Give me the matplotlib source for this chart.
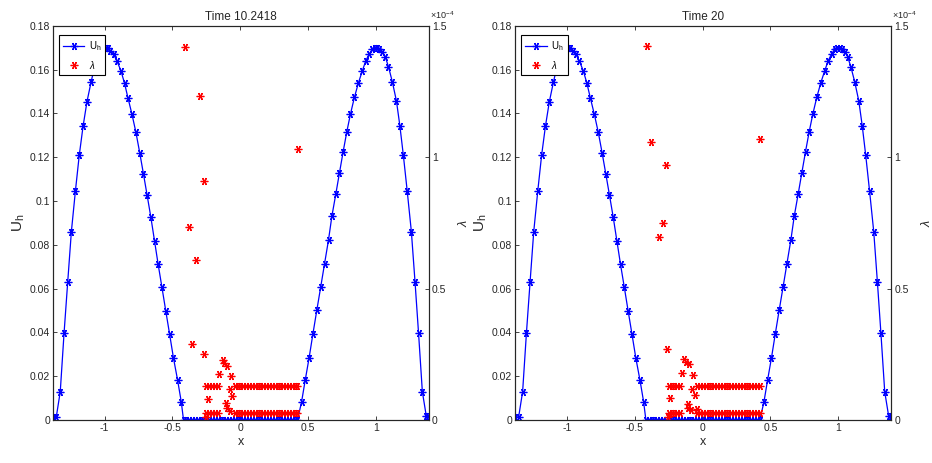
import numpy as np
import matplotlib.pyplot as plt

plt.rcParams['font.family'] = ['Liberation Sans', 'DejaVu Sans']
plt.rcParams['mathtext.fontset'] = 'custom'
plt.rcParams['mathtext.rm'] = 'Liberation Sans'
plt.rcParams['mathtext.it'] = 'Liberation Sans:italic'

# ---- discrete solution U_h (same in both panels) ----
x_h = [-1.380, -1.356, -1.327, -1.299, -1.272, -1.245, -1.215, -1.187, -1.159, -1.130,
       -1.100, -1.075, -1.050, -1.028, -1.010, -0.992, -0.975, -0.958, -0.934, -0.909,
       -0.879, -0.853, -0.828, -0.798, -0.769, -0.741, -0.714, -0.687, -0.659, -0.632,
       -0.605, -0.577, -0.549, -0.521, -0.492, -0.462, -0.435,
       -0.418, -0.397, -0.376, -0.355, -0.334, -0.313, -0.292, -0.271, -0.250, -0.229,
       -0.208, -0.187, -0.166, -0.145, -0.124, -0.103, -0.082, -0.061, -0.040, -0.019,
       0.002, 0.023, 0.044, 0.065, 0.086, 0.107, 0.128, 0.149, 0.170, 0.191,
       0.212, 0.233, 0.254, 0.275, 0.296, 0.317, 0.338, 0.359, 0.380, 0.401, 0.422,
       0.452, 0.479, 0.508, 0.536, 0.565, 0.594, 0.622, 0.651, 0.676, 0.705,
       0.732, 0.759, 0.786, 0.813, 0.842, 0.872, 0.901, 0.926, 0.951, 0.975,
       0.993, 1.010, 1.027, 1.049, 1.069, 1.093, 1.122, 1.152, 1.177, 1.203,
       1.231, 1.262, 1.289, 1.315, 1.343, 1.372, 1.388]
u_h = [0.0012, 0.0015, 0.0129, 0.0396, 0.0630, 0.0860, 0.1047, 0.1208, 0.1340, 0.1453,
       0.1542, 0.1610, 0.1655, 0.1680, 0.1692, 0.1698, 0.1696, 0.1686, 0.1669, 0.1639,
       0.1593, 0.1537, 0.1471, 0.1395, 0.1313, 0.1220, 0.1125, 0.1028, 0.0926, 0.0818,
       0.0710, 0.0605, 0.0498, 0.0393, 0.0282, 0.0183, 0.0084,
       0, 0, 0, 0, 0, 0, 0, 0, 0, 0,
       0, 0, 0, 0, 0, 0, 0, 0, 0, 0,
       0, 0, 0, 0, 0, 0, 0, 0, 0, 0,
       0, 0, 0, 0, 0, 0, 0, 0, 0, 0, 0,
       0.0081, 0.0181, 0.0284, 0.0393, 0.0502, 0.0609, 0.0714, 0.0822, 0.0931, 0.1032,
       0.1129, 0.1225, 0.1316, 0.1397, 0.1473, 0.1540, 0.1595, 0.1640, 0.1671, 0.1694,
       0.1700, 0.1700, 0.1694, 0.1681, 0.1659, 0.1613, 0.1543, 0.1456, 0.1344, 0.1208,
       0.1047, 0.0860, 0.0630, 0.0396, 0.0129, 0.0018, 0.0018]

# ---- multiplier lambda, bands of constant values ----
band_left_x = [-0.250, -0.229, -0.208, -0.187, -0.166]
band_right_x = [-0.040, -0.019, 0.002, 0.023, 0.044, 0.065, 0.086, 0.107, 0.128, 0.149,
                0.170, 0.191, 0.212, 0.233, 0.254, 0.275, 0.296, 0.317, 0.338, 0.359,
                0.380, 0.401, 0.422]
lam_upper = 0.1305e-4
lam_lower = 0.0255e-4

# isolated lambda values, t = 10.2418
lam1_x = [-0.410, -0.300, 0.425, -0.270, -0.381, -0.326, -0.356, -0.265, -0.127, -0.118,
          -0.094, -0.155, -0.066, -0.079, -0.057, -0.241, -0.103, -0.094, -0.074, -0.253]
lam1_v = [1.420, 1.232, 1.032, 0.909, 0.733, 0.609, 0.289, 0.251, 0.228, 0.216,
          0.207, 0.175, 0.169, 0.117, 0.092, 0.079, 0.064, 0.045, 0.034, 0.010]
# isolated lambda values, t = 20
lam2_x = [-0.412, -0.381, -0.270, 0.424, -0.290, -0.324, -0.261, -0.135, -0.125, -0.101,
          -0.150, -0.069, -0.078, -0.054, -0.241, -0.106, -0.106, -0.086, -0.044, -0.253]
lam2_v = [1.423, 1.056, 0.970, 1.068, 0.748, 0.697, 0.269, 0.231, 0.219, 0.212,
          0.178, 0.171, 0.117, 0.095, 0.083, 0.061, 0.044, 0.038, 0.041, 0.010]

titles = ['Time 10.2418', 'Time 20']
lam_sets = [(lam1_x, lam1_v), (lam2_x, lam2_v)]

u_ticks = [0, 0.02, 0.04, 0.06, 0.08, 0.1, 0.12, 0.14, 0.16, 0.18]
u_ticklabels = ['0', '0.02', '0.04', '0.06', '0.08', '0.1', '0.12', '0.14', '0.16', '0.18']
lam_ticks = [0, 0.5e-4, 1e-4, 1.5e-4]
lam_ticklabels = ['0', '0.5', '1', '1.5']
x_ticks = [-1, -0.5, 0, 0.5, 1]
x_ticklabels = ['-1', '-0.5', '0', '0.5', '1']

axcol = '#262626'
ast = (6, 2, 90)   # asterisk marker like MATLAB '*'
fig = plt.figure(figsize=(9.32, 4.63), dpi=100)
lefts = [0.0565, 0.5526]

for i in range(2):
    ax = fig.add_axes([lefts[i], 0.0929, 0.4038, 0.8516])
    ax2 = ax.twinx()

    line_u, = ax.plot(x_h, u_h, '-', color='blue', lw=0.9, marker=ast,
                      ms=5.5, mew=0.9)

    lx, lv = lam_sets[i]
    sc, = ax2.plot(lx, np.array(lv) * 1e-4, color='red', marker=ast, ms=5.5, mew=0.9,
                   linestyle='none')
    for bx in (band_left_x, band_right_x):
        ax2.plot(bx, [lam_upper] * len(bx), color='red', marker=ast, ms=5.5, mew=0.9,
                 linestyle='none')
        ax2.plot(bx, [lam_lower] * len(bx), color='red', marker=ast, ms=5.5, mew=0.9,
                 linestyle='none')

    ax.set_xlim(-1.383, 1.392)
    ax.set_ylim(0, 0.18)
    ax2.set_ylim(0, 1.5e-4)
    ax.set_xticks(x_ticks)
    ax.set_xticklabels(x_ticklabels)
    ax.set_yticks(u_ticks)
    ax.set_yticklabels(u_ticklabels)
    ax2.set_yticks(lam_ticks)
    ax2.set_yticklabels(lam_ticklabels)

    for a in (ax, ax2):
        for s in a.spines.values():
            s.set_color(axcol)
            s.set_linewidth(0.8)
        a.tick_params(direction='in', length=3, width=0.6, colors=axcol,
                      labelsize=7.5, pad=2)
    ax.tick_params(axis='x', top=True)

    ax.set_title(titles[i], fontsize=8.5, color=axcol, pad=4)
    ax.set_xlabel('x', fontsize=9, color=axcol, labelpad=2)
    ax.set_ylabel('U$_\\mathrm{h}$', fontsize=11, color=axcol, labelpad=2)
    ax2.set_ylabel('$\\lambda$', fontsize=9, color=axcol, labelpad=8)
    ax2.text(1.002, 1.012, '$\\times10^{-4}$', transform=ax.transAxes,
             fontsize=6.5, color=axcol, ha='left', va='bottom')

    leg = ax2.legend([line_u, sc], ['U$_\\mathrm{h}$', '$\\lambda$'], loc='upper left',
                     bbox_to_anchor=(0.0167, 0.976), borderaxespad=0, fontsize=7,
                     fancybox=False, framealpha=1, edgecolor='black',
                     handlelength=2.2, handletextpad=0.5, borderpad=0.4,
                     labelspacing=0.6)
    leg.get_frame().set_linewidth(0.8)

fig.savefig('out.png', dpi=100)
